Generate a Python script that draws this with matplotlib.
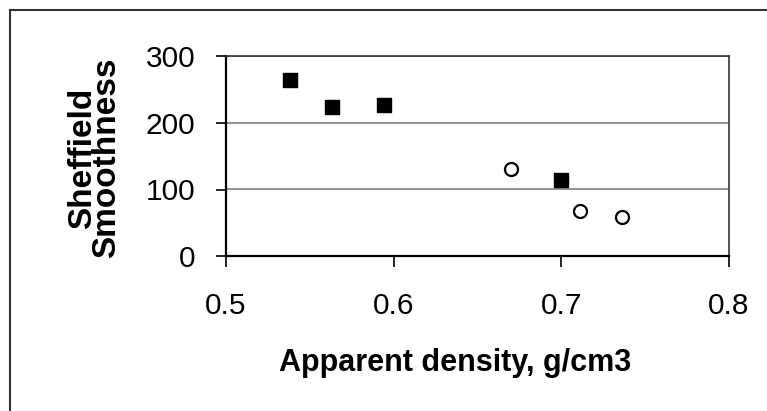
import matplotlib
matplotlib.use("Agg")
import matplotlib.pyplot as plt
from matplotlib.lines import Line2D

# Data
sq_x = [0.538, 0.563, 0.594, 0.700]
sq_y = [264, 224, 227, 115]
circ_x = [0.670, 0.711, 0.736]
circ_y = [131, 68, 59]
xticks = [0.5, 0.6, 0.7, 0.8]
yticks = [0, 100, 200, 300]
xlabel = "Apparent density, g/cm3"
ylabel = "Sheffield\nSmoothness"

plt.rcParams['font.family'] = ['Liberation Sans', 'DejaVu Sans']

W, H = 767, 411
fig = plt.figure(figsize=(W / 100, H / 100), dpi=100)
ax = fig.add_axes([226 / W, 1 - 256 / H, (729 - 226) / W, (256 - 56.5) / H])

ax.set_xlim(0.5, 0.8)
ax.set_ylim(0, 300)
ax.set_xticks(xticks)
ax.set_yticks(yticks)
ax.set_xticklabels([f"{v:g}" for v in xticks], fontsize=21.5)
ax.set_yticklabels([str(v) for v in yticks], fontsize=21.5)
ax.yaxis.grid(True, color='#808080', linewidth=1.2)
ax.set_axisbelow(True)

ax.scatter(sq_x, sq_y, marker='s', s=105, color='black', zorder=3)
ax.scatter(circ_x, circ_y, marker='o', s=88, facecolor='white',
           edgecolor='black', linewidths=1.6, zorder=3)

for s in ['left', 'bottom']:
    ax.spines[s].set_linewidth(1.6)
    ax.spines[s].set_color('black')
for s in ['top', 'right']:
    ax.spines[s].set_linewidth(1.2)
    ax.spines[s].set_color('#333333')

ax.tick_params(axis='x', direction='out', length=8, width=1.2, pad=18)
ax.tick_params(axis='y', direction='out', length=7, width=1.2, pad=15)

ax.set_xlabel(xlabel, fontsize=22, fontweight='bold')
ax.xaxis.set_label_coords(0.455, -0.46)
ax.set_ylabel(ylabel, fontsize=24, fontweight='bold', linespacing=0.72)
ax.yaxis.set_label_coords(-0.207, 0.49)

# outer frame
fig.add_artist(Line2D([9.5 / W, 1], [1 - 10 / H, 1 - 10 / H],
                      transform=fig.transFigure, color='#333333', linewidth=1.5))
fig.add_artist(Line2D([9.5 / W, 9.5 / W], [0, 1 - 10 / H],
                      transform=fig.transFigure, color='#333333', linewidth=1.5))

fig.savefig("out.png", dpi=100)
